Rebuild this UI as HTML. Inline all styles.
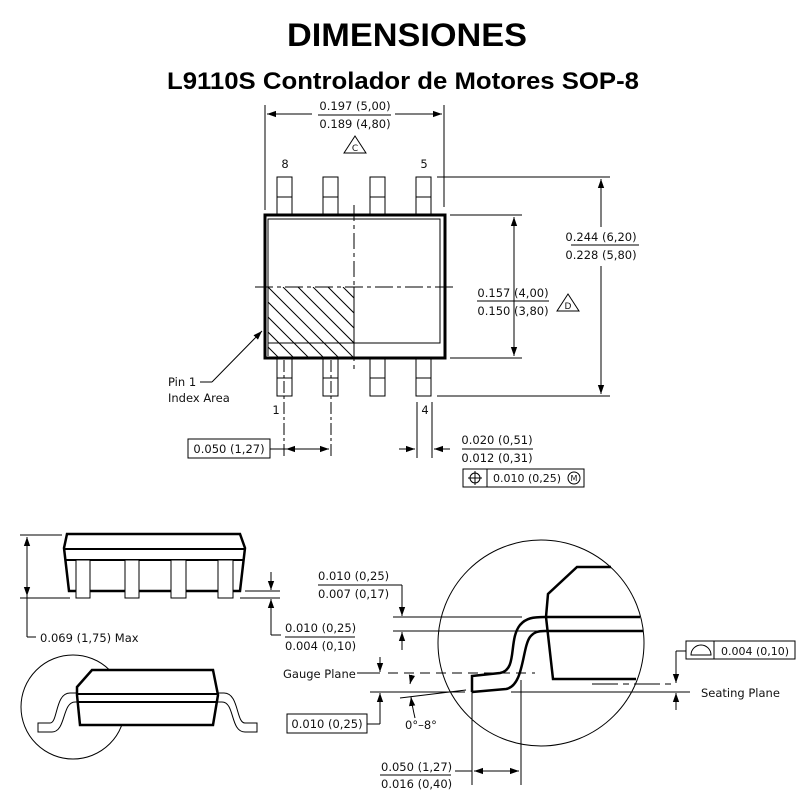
<!DOCTYPE html>
<html><head><meta charset="utf-8"><style>
html,body{margin:0;padding:0;background:#fff;}
svg{display:block;}
text{font-family:"DejaVu Sans","Liberation Sans",sans-serif;font-size:11.5px;fill:#111;}
</style></head><body>
<svg width="800" height="800" viewBox="0 0 800 800" xmlns="http://www.w3.org/2000/svg">
<defs>
<marker id="a" viewBox="0 0 10 10" refX="10" refY="5" markerWidth="9" markerHeight="9" orient="auto-start-reverse" markerUnits="userSpaceOnUse"><path d="M0,1.5 L10,5 L0,8.5 z" fill="#000"/></marker>
</defs>
<text x="407" y="46" text-anchor="middle" textLength="240" lengthAdjust="spacingAndGlyphs" style="font-family:'Liberation Sans',sans-serif;font-weight:bold;font-size:32px;fill:#000">DIMENSIONES</text>
<text x="403" y="89" text-anchor="middle" textLength="472" lengthAdjust="spacingAndGlyphs" style="font-family:'Liberation Sans',sans-serif;font-weight:bold;font-size:24px;fill:#000">L9110S Controlador de Motores SOP-8</text>

<g stroke="#000" fill="none" stroke-width="1">
<g>
<rect x="277" y="177" width="15" height="38"/><line x1="277" y1="197" x2="292" y2="197"/>
<rect x="323" y="177" width="15" height="38"/><line x1="323" y1="197" x2="338" y2="197"/>
<rect x="370" y="177" width="15" height="38"/><line x1="370" y1="197" x2="385" y2="197"/>
<rect x="416" y="177" width="15" height="38"/><line x1="416" y1="197" x2="431" y2="197"/>
<rect x="277" y="358" width="15" height="38"/><line x1="277" y1="378" x2="292" y2="378"/>
<rect x="323" y="358" width="15" height="38"/><line x1="323" y1="378" x2="338" y2="378"/>
<rect x="370" y="358" width="15" height="38"/><line x1="370" y1="378" x2="385" y2="378"/>
<rect x="416" y="358" width="15" height="38"/><line x1="416" y1="378" x2="431" y2="378"/>
</g>
<rect x="265" y="215" width="180" height="143" fill="#fff" stroke-width="3"/>
<path d="M268,219 L440,219 L440,343 L268,343 Z"/>
<line x1="268" y1="343" x2="268" y2="356"/>
<clipPath id="hc"><rect x="268" y="287" width="86" height="70"/></clipPath>
<g clip-path="url(#hc)">
<path d="M268,287 l72,72 M283,287 l72,72 M298,287 l72,72 M313,287 l72,72 M328,287 l72,72 M343,287 l72,72 M268,302 l72,72 M268,317 l72,72 M268,332 l72,72 M268,347 l72,72"/>
</g>
<line x1="354" y1="287" x2="354" y2="358"/>
<line x1="354" y1="205" x2="354" y2="370" stroke-dasharray="16,4,4,4"/>
<line x1="255" y1="287" x2="455" y2="287" stroke-dasharray="18,4,4,4"/>
<line x1="265" y1="105" x2="265" y2="210"/><line x1="444" y1="105" x2="444" y2="207"/>
<line x1="267" y1="114" x2="312" y2="114" marker-start="url(#a)"/><line x1="395" y1="114" x2="442" y2="114" marker-end="url(#a)"/>
<line x1="318" y1="115" x2="391" y2="115"/>
<path d="M344,153 L355,136 L366,153 Z"/>
<line x1="437" y1="177" x2="610" y2="177"/><line x1="437" y1="396" x2="610" y2="396"/>
<line x1="601" y1="179" x2="601" y2="227" marker-start="url(#a)"/><line x1="601" y1="266" x2="601" y2="394" marker-end="url(#a)"/>
<line x1="571" y1="245" x2="639" y2="245"/>
<line x1="450" y1="215" x2="522" y2="215"/><line x1="450" y1="358" x2="522" y2="358"/>
<line x1="514" y1="217" x2="514" y2="356" marker-start="url(#a)" marker-end="url(#a)"/>
<line x1="477" y1="301" x2="549" y2="301"/>
<path d="M557,311 L568,294 L579,311 Z"/>
<line x1="212" y1="382" x2="262" y2="331" marker-end="url(#a)"/>
<line x1="200" y1="382" x2="212" y2="382"/>
<line x1="284" y1="360" x2="284" y2="458" stroke-dasharray="12,3,3,3"/>
<line x1="331" y1="360" x2="331" y2="458" stroke-dasharray="12,3,3,3"/>
<line x1="417" y1="402" x2="417" y2="458"/><line x1="432" y1="402" x2="432" y2="458"/>
<rect x="188" y="439" width="82" height="19"/>
<line x1="270" y1="449" x2="286" y2="449"/>
<line x1="286" y1="449" x2="329" y2="449" marker-start="url(#a)" marker-end="url(#a)"/>
<line x1="399" y1="449" x2="415" y2="449" marker-end="url(#a)"/>
<line x1="450" y1="449" x2="434" y2="449" marker-end="url(#a)"/>
<line x1="462" y1="449" x2="533" y2="449"/>
<rect x="463" y="469" width="121" height="18"/><line x1="487" y1="469" x2="487" y2="487"/>
<circle cx="475" cy="478" r="5"/><line x1="468" y1="478" x2="482" y2="478"/><line x1="475" y1="471" x2="475" y2="485"/>
<circle cx="574" cy="478" r="6"/>

<path d="M67,534 L240,534 L245,548 L240,591 L69,591 L64,548 Z" stroke-width="2.5"/>
<line x1="65" y1="549" x2="244" y2="549" stroke-width="2"/>
<line x1="65" y1="560" x2="244" y2="560" stroke-width="2"/>
<g fill="#fff">
<rect x="76" y="560" width="14" height="38"/><rect x="125" y="560" width="14" height="38"/>
<rect x="171" y="560" width="15" height="38"/><rect x="218" y="560" width="15" height="38"/>
</g>
<line x1="20" y1="535" x2="62" y2="535"/><line x1="20" y1="598" x2="70" y2="598"/>
<line x1="27" y1="537" x2="27" y2="596" marker-start="url(#a)" marker-end="url(#a)"/>
<line x1="27" y1="596" x2="27" y2="637"/><line x1="27" y1="637" x2="36" y2="637"/>
<line x1="245" y1="591" x2="280" y2="591"/><line x1="240" y1="598" x2="280" y2="598"/>
<line x1="271" y1="572" x2="271" y2="590" marker-end="url(#a)"/>
<line x1="271" y1="635" x2="271" y2="599" marker-end="url(#a)"/>
<line x1="271" y1="635" x2="281" y2="635"/>

<circle cx="73" cy="707" r="52"/>
<path d="M38,732 L38,723 L50,723 C58,723 55,693 70,693 L224,693 C239,693 236,723 245,723 L257,723 L257,732 L245,732 C230,732 235,702 222,702 L75,702 C62,702 66,732 52,732 Z" fill="#fff"/>
<path d="M92,670 L213,670 L218,695 L213,725 L80,725 L77,695 L77,687 Z" fill="#fff" stroke-width="2.5"/>
<line x1="77" y1="694" x2="218" y2="694" stroke-width="2"/>
<line x1="77" y1="702" x2="218" y2="702" stroke-width="2"/>

<circle cx="541" cy="643" r="103"/>
<path d="M611,567 L577,567 L548,594 L546,617 L553,679 L636,679" stroke-width="2.5"/>
<line x1="545" y1="617" x2="640" y2="617" stroke-width="2.5"/>
<line x1="545" y1="631" x2="643" y2="631" stroke-width="2.5"/>
<path d="M472,692 L472,676 L500,673 C518,670 508,640 520,625 C526,618 533,617 545,617 M472,692 L506,689 C524,686 522,648 530,637 C534,632 538,631 545,631" stroke-width="2.5"/>
<line x1="393" y1="617" x2="522" y2="617"/><line x1="393" y1="631" x2="540" y2="631"/>
<line x1="388" y1="585" x2="402" y2="585"/>
<line x1="402" y1="585" x2="402" y2="616" marker-end="url(#a)"/>
<line x1="402" y1="650" x2="402" y2="632" marker-end="url(#a)"/>
<line x1="357" y1="673" x2="380" y2="673"/>
<line x1="388" y1="673" x2="535" y2="673" stroke-dasharray="10,6"/>
<line x1="380" y1="657" x2="380" y2="672" marker-end="url(#a)"/>
<line x1="370" y1="692" x2="465" y2="692"/>
<line x1="511" y1="692" x2="690" y2="692"/>
<line x1="380" y1="724" x2="380" y2="693" marker-end="url(#a)"/>
<line x1="367" y1="724" x2="380" y2="724"/>
<rect x="287" y="714" width="80" height="19"/>
<line x1="400" y1="698" x2="466" y2="690"/>
<line x1="412" y1="675" x2="410" y2="684" marker-end="url(#a)"/>
<path d="M415,718 Q412,705 411,697" marker-end="url(#a)"/>
<line x1="592" y1="684" x2="672" y2="684" stroke-dasharray="26,5,6,5"/>
<line x1="676" y1="651" x2="686" y2="651"/>
<line x1="676" y1="651" x2="676" y2="683" marker-end="url(#a)"/>
<line x1="676" y1="710" x2="676" y2="693" marker-end="url(#a)"/>
<rect x="686" y="641" width="109" height="18"/><line x1="714" y1="641" x2="714" y2="659"/>
<path d="M691,655 A10,10 0 0 1 711,655 Z"/>
<line x1="472" y1="692" x2="472" y2="785"/><line x1="521" y1="680" x2="521" y2="785"/>
<line x1="455" y1="771" x2="472" y2="771"/>
<line x1="474" y1="771" x2="519" y2="771" marker-start="url(#a)" marker-end="url(#a)"/>
<line x1="380" y1="775" x2="451" y2="775"/>
<line x1="318" y1="585" x2="389" y2="585"/>
<line x1="285" y1="637" x2="355" y2="637"/>
</g>

<g>
<text x="355" y="110" text-anchor="middle">0.197 (5,00)</text>
<text x="355" y="128" text-anchor="middle">0.189 (4,80)</text>
<text x="355" y="151" text-anchor="middle" style="font-size:9px">C</text>
<text x="285" y="168" text-anchor="middle">8</text>
<text x="424" y="168" text-anchor="middle">5</text>
<text x="601" y="241" text-anchor="middle">0.244 (6,20)</text>
<text x="601" y="259" text-anchor="middle">0.228 (5,80)</text>
<text x="513" y="297" text-anchor="middle">0.157 (4,00)</text>
<text x="513" y="315" text-anchor="middle">0.150 (3,80)</text>
<text x="568" y="309" text-anchor="middle" style="font-size:9px">D</text>
<text x="168" y="386">Pin 1</text>
<text x="168" y="402">Index Area</text>
<text x="276" y="414" text-anchor="middle">1</text>
<text x="425" y="414" text-anchor="middle">4</text>
<text x="229" y="453" text-anchor="middle">0.050 (1,27)</text>
<text x="497" y="444" text-anchor="middle">0.020 (0,51)</text>
<text x="497" y="462" text-anchor="middle">0.012 (0,31)</text>
<text x="527" y="482" text-anchor="middle" style="font-size:11px">0.010 (0,25)</text>
<text x="574" y="481" text-anchor="middle" style="font-size:8px">M</text>
<text x="40" y="642">0.069 (1,75) Max</text>
<text x="285" y="632">0.010 (0,25)</text>
<text x="285" y="650">0.004 (0,10)</text>
<text x="318" y="580">0.010 (0,25)</text>
<text x="318" y="598">0.007 (0,17)</text>
<text x="283" y="678">Gauge Plane</text>
<text x="327" y="728" text-anchor="middle">0.010 (0,25)</text>
<text x="405" y="729">0°–8°</text>
<text x="701" y="697">Seating Plane</text>
<text x="755" y="655" text-anchor="middle" style="font-size:11px">0.004 (0,10)</text>
<text x="381" y="771">0.050 (1,27)</text>
<text x="381" y="788">0.016 (0,40)</text>
</g>
</svg>
</body></html>
